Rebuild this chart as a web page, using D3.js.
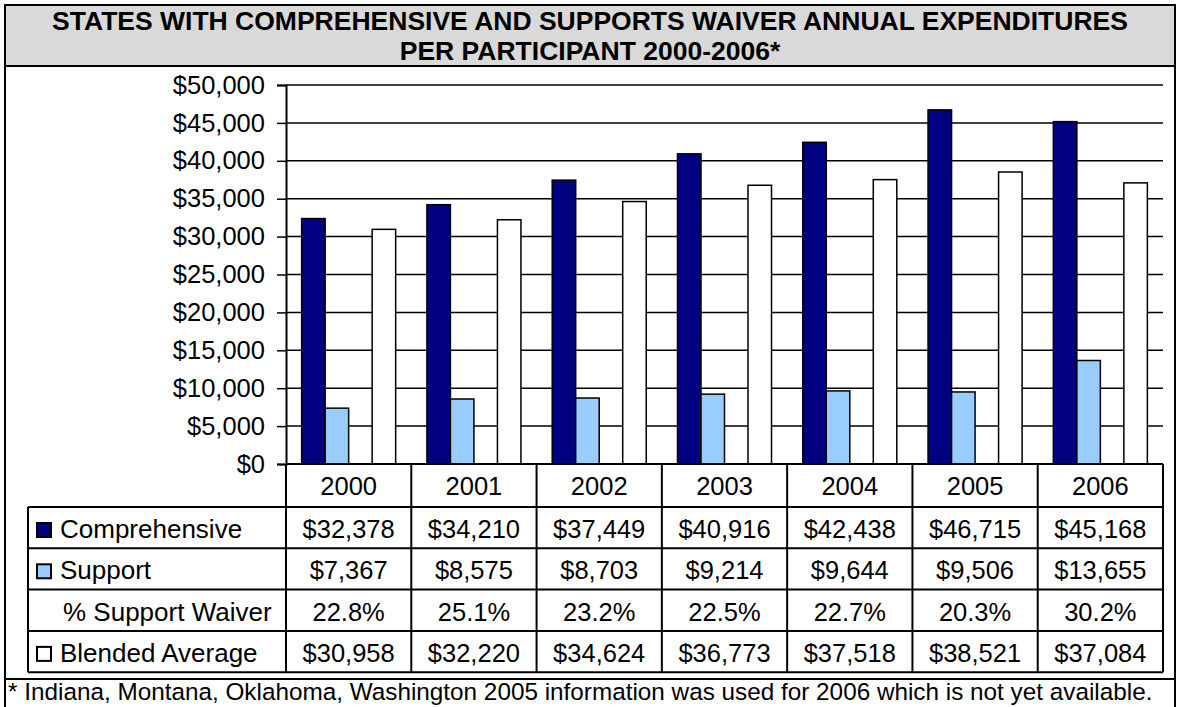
<!DOCTYPE html>
<html>
<head>
<meta charset="utf-8">
<script src="https://cdn.jsdelivr.net/npm/d3@7"></script>
<style>
  body { margin: 0; background: #fff; }
  svg { display: block; font-family: "Liberation Sans", Arial, sans-serif; }
</style>
</head>
<body>
<svg id="chart" width="1180" height="707"></svg>
<script>
// Waiver expenditures per participant, 2000-2006

const years = ['2000', '2001', '2002', '2003', '2004', '2005', '2006'];
const comprehensive = [32378, 34210, 37449, 40916, 42438, 46715, 45168];
const support = [7367, 8575, 8703, 9214, 9644, 9506, 13655];
const pctSupport = [22.8, 25.1, 23.2, 22.5, 22.7, 20.3, 30.2];
const blended = [30958, 32220, 34624, 36773, 37518, 38521, 37084];
const yTicks = [0, 5000, 10000, 15000, 20000, 25000, 30000, 35000, 40000, 45000, 50000];

const titleLines = [
    'STATES WITH COMPREHENSIVE AND SUPPORTS WAIVER ANNUAL EXPENDITURES',
    'PER PARTICIPANT 2000-2006*'
];
const footnote = '* Indiana, Montana, Oklahoma, Washington 2005 information was used for 2006 which is not yet available.';

const money = d3.format('$,');

// series as drawn in the table; the % row is a hidden slot in each cluster
const series = [
    { key: 'comp', label: 'Comprehensive', values: comprehensive, fill: '#000080', fmt: money, bar: true },
    { key: 'supp', label: 'Support', values: support, fill: '#99ccff', fmt: money, bar: true },
    { key: 'pct', label: '% Support Waiver', values: pctSupport, fill: null, fmt: d => d.toFixed(1) + '%', bar: false },
    { key: 'blend', label: 'Blended Average', values: blended, fill: '#ffffff', fmt: money, bar: true }
];

const svg = d3.select('#chart');
const W = 1180;
const fontSize = '25.5px';

const plot = { left: 286, right: 1163, top: 85, bottom: 464 };
const tableLeft = 28;
const headerBottom = 507;
const rowH = 41.3;

const x0 = d3.scaleBand()
    .domain(years)
    .range([plot.left, plot.right]);

const x1 = d3.scaleBand()
    .domain(series.map(s => s.key))
    .range([0, x0.bandwidth()])
    .paddingOuter(0.665)
    .paddingInner(0);

const y = d3.scaleLinear()
    .domain([0, 50000])
    .range([plot.bottom, plot.top]);

// Title box
svg.append('rect')
    .attr('x', 5).attr('y', 5)
    .attr('width', 1170).attr('height', 61)
    .attr('fill', '#d9d9d9')
    .attr('stroke', '#000').attr('stroke-width', 2);

svg.append('g').selectAll('text')
    .data(titleLines)
    .enter()
    .append('text')
    .attr('x', W / 2)
    .attr('y', (d, i) => 30 + i * 30)
    .attr('text-anchor', 'middle')
    .attr('font-size', '26.5px')
    .attr('font-weight', 'bold')
    .text(d => d);

// Outer frame below title
svg.append('path')
    .attr('d', 'M5,66 V707 M1175,66 V707')
    .attr('stroke', '#000').attr('stroke-width', 2)
    .attr('fill', 'none');

// Gridlines
svg.append('g').selectAll('line')
    .data(yTicks.filter(t => t > 0))
    .enter()
    .append('line')
    .attr('x1', plot.left).attr('x2', plot.right)
    .attr('y1', d => y(d)).attr('y2', d => y(d))
    .attr('stroke', '#000').attr('stroke-width', 1.5);

// Y axis
const yAxis = svg.append('g')
    .attr('transform', `translate(${plot.left},0)`)
    .call(d3.axisLeft(y).tickValues(yTicks).tickSize(9).tickPadding(12).tickFormat(money));
yAxis.select('.domain').attr('stroke-width', 2);
yAxis.selectAll('.tick line').attr('stroke-width', 1.5);
yAxis.selectAll('text')
    .attr('font-size', fontSize)
    .attr('font-family', '"Liberation Sans", Arial, sans-serif')
    .attr('fill', '#000');

// Bars
const groups = svg.append('g').selectAll('g')
    .data(years)
    .enter()
    .append('g')
    .attr('transform', d => `translate(${x0(d)},0)`);

groups.selectAll('rect')
    .data((d, i) => series.filter(s => s.bar).map(s => ({ key: s.key, fill: s.fill, value: s.values[i] })))
    .enter()
    .append('rect')
    .attr('x', d => x1(d.key))
    .attr('width', x1.bandwidth())
    .attr('y', d => y(d.value))
    .attr('height', d => y(0) - y(d.value))
    .attr('fill', d => d.fill)
    .attr('stroke', '#000')
    .attr('stroke-width', 1.5);

// Table: year header
const tableBottom = headerBottom + rowH * series.length;
const grid = svg.append('g')
    .attr('stroke', '#000')
    .attr('stroke-width', 2);

grid.append('line')
    .attr('x1', plot.left).attr('x2', plot.right)
    .attr('y1', plot.bottom).attr('y2', plot.bottom);

// vertical lines between columns
grid.selectAll('.vline')
    .data(years.concat(['end']))
    .enter()
    .append('line')
    .attr('class', 'vline')
    .attr('x1', (d, i) => plot.left + i * x0.bandwidth())
    .attr('x2', (d, i) => plot.left + i * x0.bandwidth())
    .attr('y1', plot.bottom)
    .attr('y2', tableBottom);

// horizontal lines for data rows
grid.selectAll('.hline')
    .data(d3.range(series.length + 1))
    .enter()
    .append('line')
    .attr('class', 'hline')
    .attr('x1', tableLeft).attr('x2', plot.right)
    .attr('y1', i => headerBottom + i * rowH)
    .attr('y2', i => headerBottom + i * rowH);

grid.append('line')
    .attr('x1', tableLeft).attr('x2', tableLeft)
    .attr('y1', headerBottom).attr('y2', tableBottom);

// year labels
svg.append('g').selectAll('text')
    .data(years)
    .enter()
    .append('text')
    .attr('x', d => x0(d) + x0.bandwidth() / 2)
    .attr('y', 495)
    .attr('text-anchor', 'middle')
    .attr('font-size', fontSize)
    .text(d => d);

// row labels with legend keys
const rows = svg.append('g').selectAll('g')
    .data(series)
    .enter()
    .append('g')
    .attr('transform', (d, i) => `translate(0,${headerBottom + i * rowH})`);

rows.filter(d => d.fill)
    .append('rect')
    .attr('x', 37).attr('y', 16)
    .attr('width', 14).attr('height', 14)
    .attr('fill', d => d.fill)
    .attr('stroke', '#000')
    .attr('stroke-width', 2);

rows.append('text')
    .attr('x', d => d.fill ? 60 : 63)
    .attr('y', 31)
    .attr('font-size', '26px')
    .text(d => d.label);

rows.selectAll('.cell')
    .data(d => d.values.map((v, i) => ({ v, year: years[i], fmt: d.fmt })))
    .enter()
    .append('text')
    .attr('class', 'cell')
    .attr('x', d => x0(d.year) + x0.bandwidth() / 2)
    .attr('y', 31)
    .attr('text-anchor', 'middle')
    .attr('font-size', fontSize)
    .text(d => d.fmt(d.v));

// Footnote
svg.append('line')
    .attr('x1', 5).attr('x2', 1175)
    .attr('y1', 679).attr('y2', 679)
    .attr('stroke', '#000').attr('stroke-width', 2);

svg.append('text')
    .attr('x', 8)
    .attr('y', 700)
    .attr('font-size', '24.3px')
    .text(footnote);
</script>
</body>
</html>
